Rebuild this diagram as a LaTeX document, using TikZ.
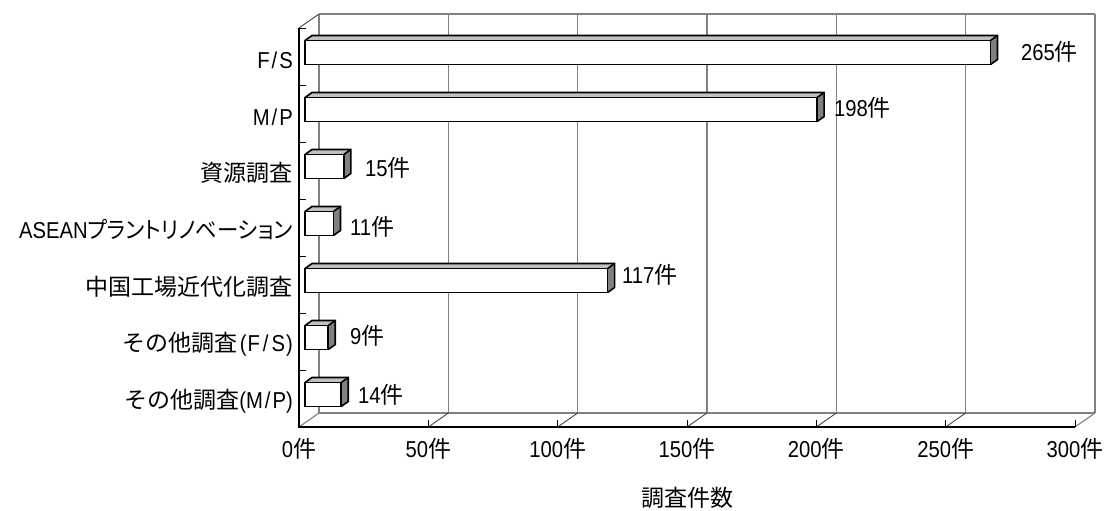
\documentclass[tikz,border=0pt]{standalone}
\usepackage{fontspec}
\setmainfont{Liberation Sans}[FakeStretch=0.88]
\newfontfamily\jp{Noto Sans CJK JP}
\newfontfamily\jpk[RawFeature=+palt,FakeStretch=0.93]{Noto Sans CJK JP}
\definecolor{gridgray}{HTML}{808080}
\definecolor{topgray}{HTML}{C0C0C0}
\definecolor{sidegray}{HTML}{808080}
\tikzset{
  gridline/.style={draw=gridgray,line width=1.1pt},
  thinline/.style={draw=black!80,line width=0.8pt},
  axisline/.style={draw=black,line width=1.5pt},
  barface/.style={draw=black,line width=1.6pt,line join=miter},
  lbl/.style={inner sep=0pt,font=\fontsize{23pt}{27pt}\selectfont},
}
\newcommand\drawhbar[3]{%
  \pgfmathsetmacro\cy{28+57*(#1+0.5)}%
  \pgfmathsetmacro\yt{\cy-16}%
  \pgfmathsetmacro\yb{\cy+8}%
  \pgfmathsetmacro\xe{305+2.5867*#2}%
  \fill[topgray] (305,\yt) -- (312,\yt-5) -- (\xe+7,\yt-5) -- (\xe,\yt) -- cycle;
  \fill[sidegray] (\xe,\yt) -- (\xe+7,\yt-5) -- (\xe+7,\yb-5) -- (\xe,\yb) -- cycle;
  \draw[barface,fill=white] (305,\yt) rectangle (\xe,\yb);
  \draw[barface] (305,\yt) -- (312,\yt-5) -- (\xe+7,\yt-5) -- (\xe+7,\yb-5) -- (\xe,\yb);
  \draw[barface] (\xe,\yt) -- (\xe+7,\yt-5);
}
\begin{document}
\begin{tikzpicture}[x=1pt,y=-1pt]
\useasboundingbox (0,0) rectangle (1106,511);
% back wall and gridlines
\foreach \k in {0,...,6}{
  \draw[gridline] ({319+129.333*\k},14) -- ({319+129.333*\k},413);
}
\draw[gridline] (319,14) -- (1095,14);
\draw[gridline] (319,413) -- (1095,413);
\draw[gridline] (299,427) -- (319,413);
\draw[gridline] (1075,427) -- (1095,413);
\foreach \k in {1,...,5}{
  \draw[thinline] ({299+129.333*\k},427) -- ({319+129.333*\k},413);
}
\draw[thinline] (299,28) -- (319,14);
% bars
\drawhbar{0}{265}{}
\drawhbar{1}{198}{}
\drawhbar{2}{15}{}
\drawhbar{3}{11}{}
\drawhbar{4}{117}{}
\drawhbar{5}{9}{}
\drawhbar{6}{14}{}
% axes
\foreach \k in {1,...,6}{
  \draw[thinline,draw=black] ({299+129.333*\k},427) -- ({299+129.333*\k},420);
}
\foreach \k in {0,...,6}{
  \draw[thinline,draw=black] (299,{28+57*\k}) -- (306,{28+57*\k});
}
\draw[axisline] (299,28) -- (299,427) -- (1075,427);
% category labels
\node[lbl,anchor=east] (c0) at (293,60) {F\kern2pt/\kern2pt S};
\node[lbl,anchor=east] (c1) at (293,117) {M\kern2pt/\kern2pt P};
\node[lbl,anchor=east] (c2) at (293,173) {\jp 資源調査};
\node[lbl,anchor=east] (c3) at (293,230) {ASEAN{\jpk プラントリノベーション}};
\node[lbl,anchor=east] (c4) at (293,287) {\jp 中国工場近代化調査};
\node[lbl,anchor=east] (c5) at (293,344) {{\jp その他調査}\kern2pt(\kern1pt F\kern3pt/\kern3pt S\kern1pt)};
\node[lbl,anchor=east] (c6) at (293,401) {{\jp その他調査}(M\kern2pt/\kern2pt P)};
% value labels
\node[lbl,anchor=west] (v0) at (1021,52) {265{\jp 件}};
\node[lbl,anchor=west] (v1) at (834,108) {198{\jp 件}};
\node[lbl,anchor=west] (v2) at (365,168) {15{\jp 件}};
\node[lbl,anchor=west] (v3) at (350,227) {11{\jp 件}};
\node[lbl,anchor=west] (v4) at (622,275) {117{\jp 件}};
\node[lbl,anchor=west] (v5) at (350,336) {9{\jp 件}};
\node[lbl,anchor=west] (v6) at (358,395) {14{\jp 件}};
% tick labels
\foreach \v [count=\k from 0] in {0,50,100,150,200,250,300}{
  \node[lbl] (t\k) at ({299+129.333*\k},449) {\v{\jp 件}};
}
\node[lbl] (title) at (687,498) {\jp 調査件数};
\end{tikzpicture}
\end{document}
